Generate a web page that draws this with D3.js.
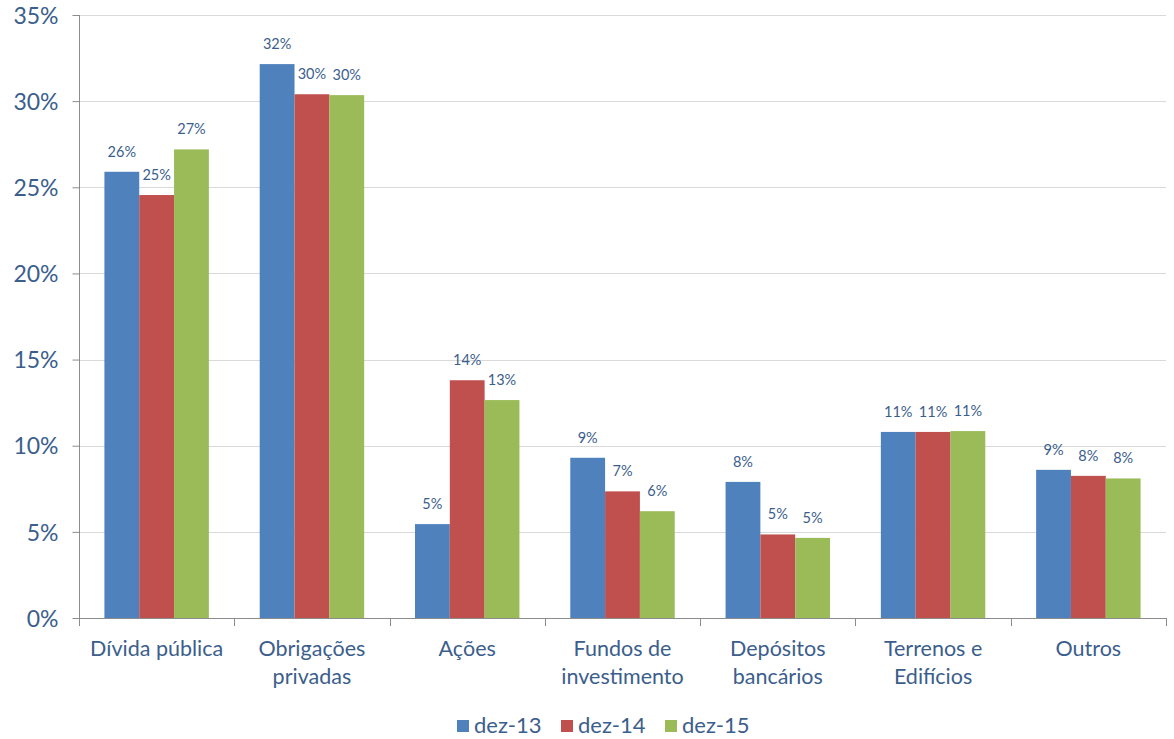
<!DOCTYPE html>
<html>
<head>
<meta charset="utf-8">
<script src="https://cdn.jsdelivr.net/npm/d3@7"></script>
<style>
  html, body { margin: 0; padding: 0; background: #fff; }
  svg text { font-family: Lato, "Open Sans", "Liberation Sans", sans-serif; }
</style>
</head>
<body>
<svg id="chart" width="1174" height="739"></svg>
<script>
// Asset allocation by category, three year-end snapshots
const categories = [
  ["Dívida pública"],
  ["Obrigações", "privadas"],
  ["Ações"],
  ["Fundos de", "investimento"],
  ["Depósitos", "bancários"],
  ["Terrenos e", "Edifícios"],
  ["Outros"]
];
const seriesNames = ["dez-13", "dez-14", "dez-15"];
const dez13 = [25.9, 32.15, 5.45, 9.3, 7.9, 10.8, 8.6];
const dez14 = [24.55, 30.4, 13.8, 7.35, 4.85, 10.8, 8.25];
const dez15 = [27.2, 30.35, 12.65, 6.2, 4.65, 10.85, 8.1];
const seriesColors = ["#4F81BD", "#C0504D", "#9BBB59"];
const yTicks = [0, 5, 10, 15, 20, 25, 30, 35];

const series = [dez13, dez14, dez15];
const textColor = "#3B5E8C";

const svg = d3.select("#chart");
const margin = { left: 79, right: 8, top: 15, bottom: 121 };
const W = 1174, H = 739;
const x0 = margin.left, x1 = W - margin.right;
const yTop = margin.top, yBot = H - margin.bottom;

const x = d3.scaleBand()
  .domain(d3.range(categories.length))
  .range([x0, x1])
  .paddingInner(0)
  .paddingOuter(0);

const xs = d3.scaleBand()
  .domain(d3.range(series.length))
  .range([0, x.bandwidth()])
  .paddingOuter(0.73)
  .paddingInner(0);

const y = d3.scaleLinear().domain([0, 35]).range([yBot, yTop]);

// horizontal gridlines
svg.append("g")
  .selectAll("line")
  .data(yTicks.filter(t => t > 0))
  .join("line")
  .attr("x1", x0).attr("x2", x1)
  .attr("y1", d => Math.round(y(d)) + 0.5)
  .attr("y2", d => Math.round(y(d)) + 0.5)
  .attr("stroke", "#D9D9D9")
  .attr("stroke-width", 1.2);

// bars with their value labels
const groups = svg.append("g")
  .selectAll("g")
  .data(series)
  .join("g")
  .attr("fill", (d, i) => seriesColors[i]);

groups.each(function (vals, si) {
  d3.select(this).selectAll("rect")
    .data(vals)
    .join("rect")
    .attr("x", (v, ci) => x(ci) + xs(si))
    .attr("width", xs.bandwidth())
    .attr("y", v => y(v))
    .attr("height", v => y(0) - y(v));

  d3.select(this).selectAll("text")
    .data(vals)
    .join("text")
    .attr("x", (v, ci) => x(ci) + xs(si) + xs.bandwidth() / 2)
    .attr("y", v => y(v) - 15)
    .attr("text-anchor", "middle")
    .attr("fill", textColor)
    .attr("font-size", 14.5)
    .text(v => Math.round(v) + "%");
});

// y axis
const yAxis = svg.append("g")
  .attr("transform", `translate(${x0 + 0.5},0)`)
  .call(d3.axisLeft(y).tickValues(yTicks).tickSize(7).tickPadding(14).tickFormat(d => d + "%"));
yAxis.select(".domain").attr("stroke", "#8C8C8C").attr("d", `M0,${yTop}V${yBot}`);
yAxis.selectAll(".tick line").attr("stroke", "#8C8C8C");
yAxis.selectAll(".tick text")
  .attr("fill", textColor)
  .attr("font-size", 23)
  .attr("dy", "0.36em");

// x axis baseline and group separators
const xAxisG = svg.append("g");
xAxisG.append("line")
  .attr("x1", x0).attr("x2", x1)
  .attr("y1", yBot + 0.5).attr("y2", yBot + 0.5)
  .attr("stroke", "#8C8C8C");
xAxisG.selectAll("line.sep")
  .data(d3.range(categories.length + 1))
  .join("line")
  .attr("class", "sep")
  .attr("x1", i => Math.round(x0 + i * x.step()) + 0.5)
  .attr("x2", i => Math.round(x0 + i * x.step()) + 0.5)
  .attr("y1", yBot).attr("y2", yBot + 8)
  .attr("stroke", "#8C8C8C");

// category labels
const catLabels = svg.append("g")
  .selectAll("text")
  .data(categories)
  .join("text")
  .attr("x", (d, i) => x(i) + x.bandwidth() / 2)
  .attr("y", yBot + 38)
  .attr("text-anchor", "middle")
  .attr("fill", textColor)
  .attr("font-size", 21.5);
catLabels.each(function (lines) {
  d3.select(this).selectAll("tspan")
    .data(lines)
    .join("tspan")
    .attr("x", d3.select(this).attr("x"))
    .attr("dy", (d, i) => i === 0 ? 0 : 28)
    .text(d => d);
});

// legend
const legendX = [457, 561, 665];
const legend = svg.append("g")
  .selectAll("g")
  .data(seriesNames)
  .join("g")
  .attr("transform", (d, i) => `translate(${legendX[i]},720)`);
legend.append("rect")
  .attr("width", 12).attr("height", 12)
  .attr("fill", (d, i) => seriesColors[i]);
legend.append("text")
  .attr("x", 17).attr("y", 13)
  .attr("fill", textColor)
  .attr("font-size", 22)
  .text(d => d);
</script>
</body>
</html>
